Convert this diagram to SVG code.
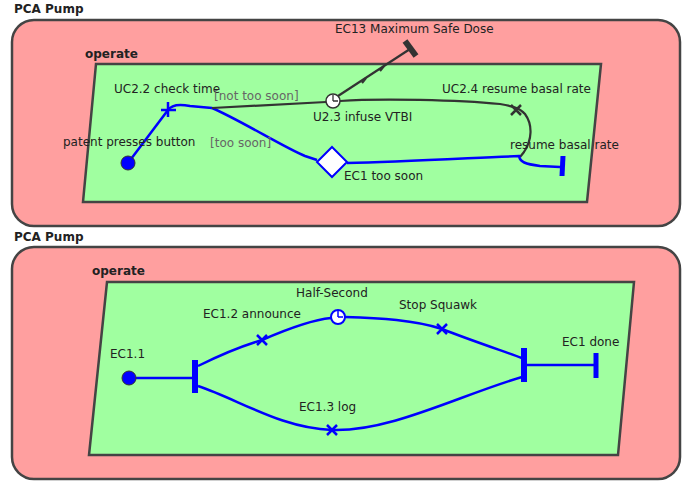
<svg xmlns="http://www.w3.org/2000/svg" width="682" height="482" viewBox="0 0 682 482">
<style>
.region{fill:#ff9f9f;stroke:#444;stroke-width:2.5}
.state{fill:#a0ffa0;stroke:#444;stroke-width:2.5}
.title{font-family:"DejaVu Sans",sans-serif;font-size:12px;font-weight:bold;fill:#222}
.lbl{font-family:"DejaVu Sans",sans-serif;font-size:12px;fill:#222}
.grd{font-family:"DejaVu Sans",sans-serif;font-size:12px;fill:#666}
.blue{fill:none;stroke:#0000ff;stroke-width:2.5}
.dark{fill:none;stroke:#333;stroke-width:2.2}
.bbar{stroke:#0000ff;stroke-width:5}
.clockb{fill:#fff;stroke:#0000ff;stroke-width:2}
.clockd{fill:#fff;stroke:#333;stroke-width:1.5}
</style>
<rect width="682" height="482" fill="#fff"/>
<g id="top">
<text class="title" x="14" y="13">PCA Pump</text>
<rect class="region" x="12" y="20" width="668" height="206" rx="22"/>
<text class="title" x="85" y="58">operate</text>
<polygon class="state" points="96,64 601,64 587,202 83,202"/>
</g>
<g id="bottom">
<text class="title" x="14" y="241">PCA Pump</text>
<rect class="region" x="12" y="247" width="668" height="232" rx="22"/>
<text class="title" x="92" y="275">operate</text>
<polygon class="state" points="107,282 634,282 618,455 89,455"/>
</g>
<g id="connectors">
<path class="blue" d="M128,163 L168,110 C172,104 180,104 190,106 L212,108"/>
<path class="blue" d="M212,108 C240,120 285,148 305,156 L317,160"/>
<path class="dark" d="M212,108 L326,102"/>
<path class="dark" d="M338,96 L410,49"/>
<path class="dark" d="M340,101 C380,98 460,100 500,104 C512,106 520,108 525,114 C533,125 532,140 524,152 L520,157"/>
<path class="blue" d="M347,163 C400,162 470,158 519,156 C520,162 525,164 540,166 L560,167"/>
<path class="dark" d="M362,83 L366,78 M380,71 L384,66" stroke-width="2"/>
<path class="blue" d="M135,378 L192,378"/>
<path class="blue" d="M198,366 C220,355 245,345 262,340 C285,330 310,320 331,318"/>
<path class="blue" d="M345,317 C380,318 415,320 442,329 C470,340 500,350 522,358"/>
<path class="blue" d="M198,386 C240,400 280,428 332,430 C390,432 460,395 522,377"/>
<path class="blue" d="M527,365 L595,365"/>
</g>
<g id="patent-presses-button">
<circle cx="128" cy="163" r="7" fill="#0000ff" stroke="#333" stroke-width="1"/>
<text class="lbl" x="63" y="146">patent presses button</text>
</g>
<g id="uc22">
<path class="blue" d="M168,102 L168,117 M161,110 L176,110" stroke-width="3"/>
<text class="lbl" x="114" y="93">UC2.2 check time</text>
</g>
<g id="guards">
<text class="grd" x="214" y="100">[not too soon]</text>
<text class="grd" x="210" y="147">[too soon]</text>
</g>
<g id="u23">
<circle class="clockd" cx="333" cy="101" r="7"/>
<path d="M333,101 L333,95 M333,101 L338,101" stroke="#333" stroke-width="1.3"/>
<text class="lbl" x="313" y="121">U2.3 infuse VTBI</text>
</g>
<g id="ec13">
<path d="M405,41 L416,56" stroke="#333" stroke-width="6"/>
<text class="lbl" x="335" y="33">EC13 Maximum Safe Dose</text>
</g>
<g id="uc24">
<path d="M511,105 L521,115 M521,105 L511,115" stroke="#333" stroke-width="2.5"/>
<text class="lbl" x="442" y="93">UC2.4 resume basal rate</text>
</g>
<g id="ec1-too-soon">
<polygon points="332,147 347,162 332,177 317,162" fill="#fff" stroke="#0000ff" stroke-width="2"/>
<text class="lbl" x="344" y="180">EC1 too soon</text>
</g>
<g id="resume-basal-rate">
<path class="bbar" d="M563,156 L562,176"/>
<text class="lbl" x="510" y="149">resume basal rate</text>
</g>
<g id="ec11">
<circle cx="129" cy="378" r="7" fill="#0000ff" stroke="#333" stroke-width="1"/>
<text class="lbl" x="110" y="358">EC1.1</text>
</g>
<g id="fork">
<path d="M195,360 L195,393" stroke="#0000ff" stroke-width="6"/>
</g>
<g id="ec12">
<path class="blue" d="M257,335 L267,345 M267,335 L257,345"/>
<text class="lbl" x="203" y="318">EC1.2 announce</text>
</g>
<g id="half-second">
<circle class="clockb" cx="338" cy="317" r="7"/>
<path d="M338,317 L338,311 M338,317 L343,317" stroke="#0000ff" stroke-width="1.5"/>
<text class="lbl" x="296" y="297">Half-Second</text>
</g>
<g id="stop-squawk">
<path class="blue" d="M437,324 L447,334 M447,324 L437,334"/>
<text class="lbl" x="399" y="309">Stop Squawk</text>
</g>
<g id="ec13log">
<path class="blue" d="M327,425 L337,435 M337,425 L327,435"/>
<text class="lbl" x="299" y="411">EC1.3 log</text>
</g>
<g id="join">
<path d="M524,348 L524,382" stroke="#0000ff" stroke-width="6"/>
</g>
<g id="ec1-done">
<path class="bbar" d="M596,353 L596,378"/>
<text class="lbl" x="562" y="346">EC1 done</text>
</g>
</svg>
